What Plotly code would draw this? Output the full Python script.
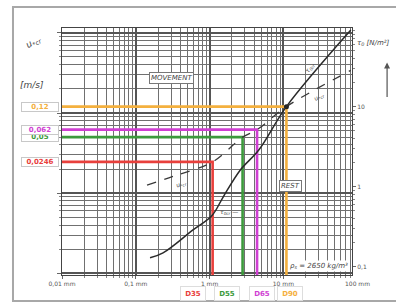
import numpy as np
import plotly.graph_objects as go

# ---- data ----
# dashed curve: critical shear velocity u*cr [m/s] vs grain diameter d [mm]
ucr_d = [0.142, 0.34, 1.1, 2.8, 4.4, 11, 82]
ucr_v = [0.0126, 0.0165, 0.0246, 0.05, 0.062, 0.12, 0.34]
# solid curve: critical bed shear stress tau0 [N/m2] vs d [mm]
tau_d = [0.156, 0.234, 0.596, 1.08, 1.52, 2.58, 4.67, 11, 82]
tau_v = [0.13, 0.15, 0.29, 0.44, 0.74, 1.6, 2.9, 10, 90]
# characteristic diameters and the read-off u*cr values
marker_names = ["D35", "D55", "D65", "D90"]
marker_d = [1.1, 2.8, 4.4, 11]
marker_u = [0.0246, 0.05, 0.062, 0.12]
marker_text = ["0,0246", "0,05", "0,062", "0,12"]
marker_colors = ["#e8403c", "#3c9a3c", "#cf3fd2", "#f4b03e"]
marker_label_x = [0.452, 0.569, 0.690, 0.786]
# axes
x_ticks = [0.01, 0.1, 1, 10]
x_ticktext = ["0,01 mm", "0,1 mm", "1 mm", "10 mm"]
y2_ticks = [0.1, 1, 10, 100]
y2_ticktext = ["0,1", "1", "10", "100"]
x_range = [-2, 1.93]
y_range = [-3.02, 0.06]
y2_range = [-1.1, 1.98]

x_min = 10 ** x_range[0]
y_min = 10 ** y_range[0]

def minors(lo, hi):
    vals = []
    for e in range(lo, hi):
        for m in range(2, 10):
            vals.append(m * 10.0 ** e)
    return vals

fig = go.Figure()

# marker L-lines
for name, d, u, c in zip(marker_names, marker_d, marker_u, marker_colors):
    fig.add_trace(go.Scatter(x=[x_min, d, d], y=[u, u, y_min], mode="lines",
                             line=dict(color=c, width=2.6), hoverinfo="skip",
                             showlegend=False))

fig.add_trace(go.Scatter(x=ucr_d, y=ucr_v, mode="lines", line_shape="spline",
                         line=dict(color="#3a3a3a", width=1.3, dash="dash"),
                         showlegend=False))
fig.add_trace(go.Scatter(x=tau_d, y=tau_v, mode="lines", line_shape="spline",
                         yaxis="y2", line=dict(color="#2a2a2a", width=1.5),
                         showlegend=False))
fig.add_trace(go.Scatter(x=[marker_d[-1]], y=[marker_u[-1]], mode="markers",
                         marker=dict(color="#222", size=5), showlegend=False))

grid_minor = dict(showgrid=True, gridcolor="#707070", gridwidth=0.8,
                  ticks="outside", ticklen=2, tickcolor="#888")

fig.update_layout(
    width=396, height=305,
    margin=dict(l=62, r=44, t=28, b=30),
    paper_bgcolor="white", plot_bgcolor="white",
    font=dict(family="DejaVu Sans", color="#333"),
    xaxis=dict(type="log", range=x_range, tickvals=x_ticks, ticktext=x_ticktext,
               tickfont=dict(size=6, color="#555"), showgrid=True,
               gridcolor="#555", gridwidth=1.8, zeroline=False,
               showline=True, linecolor="#444", mirror=True, ticks="outside",
               ticklen=3, tickcolor="#666",
               minor=dict(tickvals=minors(-2, 2), **grid_minor)),
    yaxis=dict(type="log", range=y_range, tickvals=[0.001, 0.01, 0.1, 1],
               showticklabels=False, showgrid=True, gridcolor="#555",
               gridwidth=1.8, zeroline=False, showline=True, linecolor="#444",
               ticks="outside", ticklen=4, tickcolor="#666",
               minor=dict(tickvals=minors(-3, 1), **grid_minor)),
    yaxis2=dict(type="log", range=y2_range, overlaying="y", side="right",
                tickvals=y2_ticks, ticktext=y2_ticktext,
                tickfont=dict(size=6, color="#555"), showgrid=False,
                zeroline=False, showline=True, linecolor="#444", ticks="outside",
                ticklen=3, tickcolor="#666",
                minor=dict(tickvals=minors(-1, 2), ticks="outside", ticklen=2,
                           tickcolor="#888")),
)

C = dict(xanchor="center", yanchor="middle", showarrow=False)
ann = []
# value boxes at left
for t, u, c in zip(marker_text, marker_u, marker_colors):
    ann.append(dict(xref="paper", yref="y", x=-0.012, y=np.log10(u), xanchor="right",
                    yanchor="middle", text="<b>%s</b>" % t, showarrow=False,
                    font=dict(size=7, color=c),
                    bgcolor="white", bordercolor="#c8c8c8", borderwidth=1,
                    width=36, height=8, borderpad=0))
# D labels at bottom
for n, xp, c in zip(marker_names, marker_label_x, marker_colors):
    ann.append(dict(xref="paper", yref="paper", x=xp, y=-0.075, text="<b>%s</b>" % n,
                    font=dict(size=7, color=c),
                    bgcolor="white", bordercolor="#dddddd", borderwidth=1,
                    width=22, height=11, **C))
ann += [
    dict(xref="paper", yref="paper", x=1.02, y=-0.035, text="100 mm",
         font=dict(size=6, color="#555"), **C),
    dict(xref="x", yref="y", x=np.log10(0.30), y=np.log10(0.272),
         text="<i>MOVEMENT</i>", font=dict(size=7, color="#444"),
         bgcolor="white", bordercolor="#777", borderwidth=1, borderpad=1, **C),
    dict(xref="x", yref="y", x=np.log10(12.3), y=np.log10(0.0123),
         text="<i>REST</i>", font=dict(size=7, color="#444"),
         bgcolor="white", bordercolor="#777", borderwidth=1, borderpad=1, **C),
    dict(xref="paper", yref="paper", x=0.885, y=0.035,
         text="<i>ρ<sub>s</sub> = 2650 kg/m³</i>",
         font=dict(size=7, color="#444"), bgcolor="white", **C),
    dict(xref="paper", yref="paper", x=-0.1, y=0.94,
         text="<i>u<sub>*cr</sub></i>", textangle=-30,
         font=dict(size=9, color="#444"), **C),
    dict(xref="paper", yref="paper", x=-0.105, y=0.77, text="<i>[m/s]</i>",
         font=dict(size=9, color="#444"), **C),
    dict(xref="paper", yref="paper", x=1.012, y=0.94, xanchor="left", yanchor="middle",
         text="<i>τ<sub>0</sub> [N/m²]</i>", showarrow=False,
         font=dict(size=7, color="#444")),
    dict(xref="paper", yref="paper", x=1.121, y=0.86, text="", showarrow=True,
         ax=0, ay=36, arrowhead=2, arrowsize=1, arrowwidth=1.2, arrowcolor="#555"),
    dict(xref="paper", yref="paper", x=0.853, y=0.84, text="<i>τ<sub>0cr</sub></i>",
         textangle=-55, font=dict(size=6, color="#444"), **C),
    dict(xref="paper", yref="paper", x=0.885, y=0.72, text="<i>u<sub>*cr</sub></i>",
         textangle=-30, font=dict(size=6, color="#444"), **C),
    dict(xref="paper", yref="paper", x=0.41, y=0.37, text="<i>u<sub>*cr</sub></i>",
         textangle=-20, font=dict(size=6, color="#444"), **C),
    dict(xref="paper", yref="paper", x=0.575, y=0.255, text="<i>τ<sub>0cr</sub></i> —",
         font=dict(size=6, color="#444"), **C),
]
fig.update_layout(annotations=ann)

# outer frame of the figure
fig.add_shape(type="rect", xref="paper", yref="paper", x0=-0.169, x1=1.16,
              y0=-0.105, y1=1.085, line=dict(color="#a8a8a8", width=2))

fig.write_html("out.html", config={"displayModeBar": False},
               post_script="document.body.style.margin='0px';document.body.style.overflow='hidden';")
